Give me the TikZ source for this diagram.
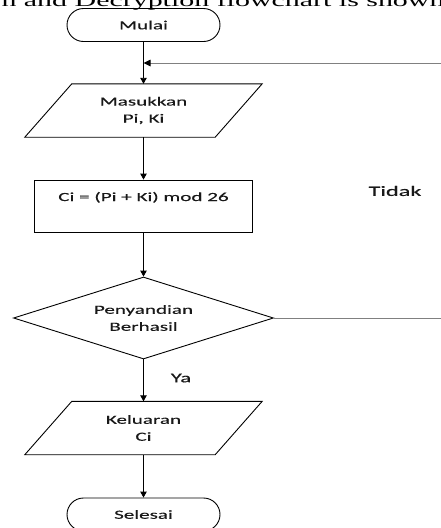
\documentclass[tikz,border=0pt]{standalone}
\usepackage{fontspec}
\setmainfont[FakeStretch=1.70,FakeBold=0.4]{Carlito}
\newfontfamily\titlefont[FakeStretch=1.72]{Liberation Serif}
\usetikzlibrary{shapes.geometric,arrows.meta}
\begin{document}
\begin{tikzpicture}[x=1pt,y=-1pt,
  txt/.style={font=\fontsize{12.4}{17}\selectfont, text=black!90},
  flow/.style={draw=black, line width=0.9pt, -{Triangle[length=6pt,width=6.5pt]}},
  back/.style={draw=black!50, line width=0.9pt},
  term/.style={txt, draw, line width=0.9pt, rounded corners=16.5pt, minimum width=153pt, minimum height=33pt, inner sep=0pt},
  proc/.style={txt, draw, line width=0.9pt, minimum width=218pt, minimum height=52pt, inner sep=0pt},
  decis/.style={txt, diamond, draw, line width=0.9pt, aspect=3.17, minimum width=260pt, minimum height=82pt, inner sep=0pt, align=center},
  io/.style={txt, minimum width=237pt, minimum height=53pt, inner sep=0pt, align=center},
  iodraw/.style={draw, line width=0.9pt}
]
\useasboundingbox (0,0) rectangle (441,528);
\clip (0,0) rectangle (441,528);

\node[anchor=base west, font=\titlefont\fontsize{17.4}{20}\selectfont] (title) at (-2,6) {n and Decryption flowchart is shown};

\node[term] (mulai) at (143.5,25) {Mulai};
\node[io] (inp) at (143.5,110.5) {Masukkan\\Pi, Ki};
\draw[iodraw] ([xshift=47pt]inp.north west) -- (inp.north east) -- ([xshift=-47pt]inp.south east) -- (inp.south west) -- cycle;
\node[proc] (proc) at (143.5,206) {\raisebox{5pt}[0pt][0pt]{Ci = (Pi + Ki) mod 26}};
\node[decis] (dec) at (143.5,318) {Penyandian\\Berhasil};
\node[io] (out) at (143.5,428) {Keluaran\\Ci};
\draw[iodraw] ([xshift=47pt]out.north west) -- (out.north east) -- ([xshift=-47pt]out.south east) -- (out.south west) -- cycle;
\node[term] (selesai) at (143.5,514.5) {Selesai};

\node[txt, font=\fontsize{14.3}{16}\selectfont] (tidak) at (395,191) {Tidak};
\node[txt, font=\fontsize{13.3}{16}\selectfont] (ya) at (181,378) {Ya};

\coordinate (fbR) at (441,318);
\coordinate (fbT) at (441,63);
\coordinate (join) at (143.5,63);

\draw[flow] (mulai.south) -- (inp.north);
\draw[flow] (inp.south) -- (proc.north);
\draw[flow] (proc.south) -- (dec.north);
\draw[flow] (dec.south) -- (out.north);
\draw[flow] (out.south) -- (selesai.north);
\draw[back] (dec.east) -- (fbR);
\draw[back, -{Triangle[color=black,fill=black,length=7pt,width=6.5pt]}] (fbT) -- (join);
\end{tikzpicture}
\end{document}
